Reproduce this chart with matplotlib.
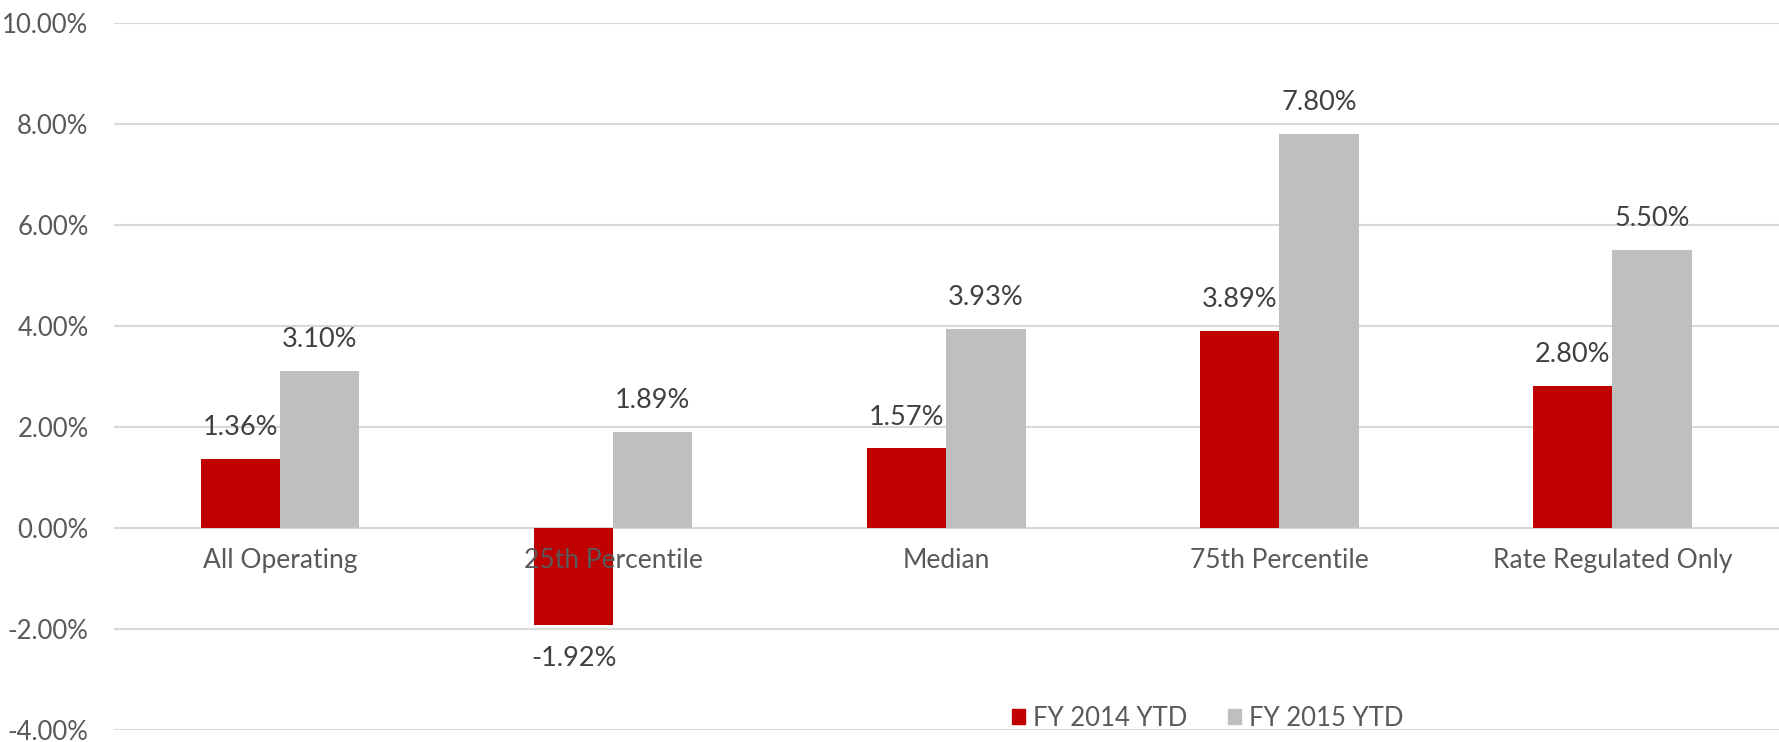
import matplotlib
matplotlib.use("Agg")
import matplotlib.pyplot as plt
from matplotlib.patches import Patch
import numpy as np

categories = ["All Operating", "25th Percentile", "Median", "75th Percentile", "Rate Regulated Only"]
fy2014 = [1.36, -1.92, 1.57, 3.89, 2.80]
fy2015 = [3.10, 1.89, 3.93, 7.80, 5.50]
series_names = ["FY 2014 YTD", "FY 2015 YTD"]
yticks = [-4, -2, 0, 2, 4, 6, 8, 10]

RED = "#C00000"
GRAY = "#BFBFBF"
TICK_C = "#595959"
LABEL_C = "#404040"

plt.rcParams['font.family'] = ['Lato', 'DejaVu Sans']

fig = plt.figure(figsize=(17.79, 7.42), dpi=100)
ax = fig.add_axes([0.0638, 0.0168, 0.9362, 0.9526])

x = np.arange(len(categories))
w = 0.238
b1 = ax.bar(x - w / 2, fy2014, width=w, color=RED, zorder=3)
b2 = ax.bar(x + w / 2, fy2015, width=w, color=GRAY, zorder=3)

ax.set_xlim(-0.5, len(categories) - 0.5)
ax.set_ylim(-4, 10)
ax.set_yticks(yticks)
ax.set_yticklabels([f"{v:.2f}%" for v in yticks], fontsize=18.5, color=TICK_C)
ax.tick_params(axis='y', length=0, pad=18)
ax.set_xticks([])
ax.grid(axis='y', color="#D9D9D9", linewidth=1.5, zorder=0)
ax.set_axisbelow(True)
for s in ax.spines.values():
    s.set_visible(False)

# category labels just below the zero line
for i, c in enumerate(categories):
    ax.annotate(c, (i, 0), xytext=(0, -24), textcoords='offset points',
                ha='center', va='center', fontsize=19, color=TICK_C, zorder=5)

# data labels
for bars, vals in ((b1, fy2014), (b2, fy2015)):
    for bar, v in zip(bars, vals):
        cx = bar.get_x() + bar.get_width() / 2
        off = 22.5 if v >= 0 else -24.5
        ax.annotate(f"{v:.2f}%", (cx, v), xytext=(0, off), textcoords='offset points',
                    ha='center', va='center', fontsize=19.5, color=LABEL_C, zorder=5)

handles = [Patch(color=RED), Patch(color=GRAY)]
fig.legend(handles, series_names, loc='center', bbox_to_anchor=(0.679, 0.032),
           ncol=2, frameon=False, fontsize=18.5, labelcolor=TICK_C,
           handlelength=0.5, handleheight=0.5, handletextpad=0.3, columnspacing=1.6)

fig.savefig("out.png", dpi=100)
